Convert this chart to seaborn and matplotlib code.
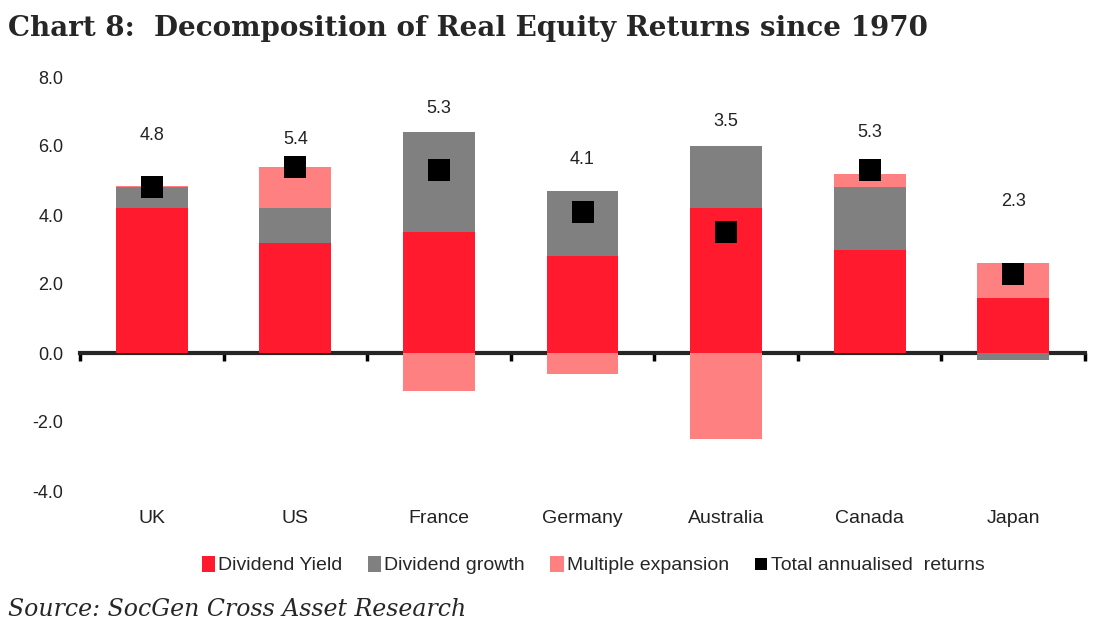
import numpy as np
import pandas as pd
import matplotlib
matplotlib.use("Agg")
import matplotlib.pyplot as plt
import seaborn as sns

# values (% p.a.)
countries = ["UK", "US", "France", "Germany", "Australia", "Canada", "Japan"]
dividend_yield = [4.2, 3.2, 3.5, 2.8, 4.2, 3.0, 1.6]
dividend_growth = [0.6, 1.0, 2.9, 1.9, 1.8, 1.8, -0.2]
multiple_expansion = [0.05, 1.2, -1.1, -0.6, -2.5, 0.4, 1.0]
total_returns = [4.8, 5.4, 5.3, 4.1, 3.5, 5.3, 2.3]
# height where each total label sits
label_heights = [6.3, 6.2, 7.1, 5.6, 6.7, 6.4, 4.4]

components = [
    ("Dividend Yield", dividend_yield, "#FF1A2E"),
    ("Dividend growth", dividend_growth, "#808080"),
    ("Multiple expansion", multiple_expansion, "#FF8080"),
]

sns.set_style("white")
plt.rcParams["font.family"] = ["Liberation Sans", "DejaVu Sans"]

fig = plt.figure(figsize=(10.96, 6.44), dpi=100)
ax = fig.add_axes([80 / 1096, 153 / 644, 1005 / 1096, 414 / 644])

# stack positives upwards and negatives downwards
pos_base = np.zeros(len(countries))
neg_base = np.zeros(len(countries))
for name, vals, col in components:
    vals = np.asarray(vals, dtype=float)
    bottom = np.where(vals >= 0, pos_base, neg_base)
    df = pd.DataFrame({"country": countries, "value": vals})
    sns.barplot(data=df, x="country", y="value", order=countries, bottom=bottom,
                color=col, saturation=1, width=0.5, errorbar=None,
                linewidth=0, label=name, ax=ax)
    pos_base += np.clip(vals, 0, None)
    neg_base += np.clip(vals, None, 0)

tot = pd.DataFrame({"country": countries, "total": total_returns})
sns.scatterplot(data=tot, x="country", y="total", marker="s", s=250,
                color="black", edgecolor="black", linewidth=0,
                label="Total annualised  returns", zorder=5, ax=ax)

for i, (t, h) in enumerate(zip(total_returns, label_heights)):
    ax.text(i, h, f"{t:.1f}", ha="center", va="center", fontsize=13, color="#222222")

ax.set_xlim(-0.5, len(countries) - 0.5)
ax.set_ylim(-4, 8)
ax.set_yticks(np.arange(-4, 9, 2))
ax.set_yticklabels([f"{v:.1f}" for v in np.arange(-4, 9, 2)])
ax.set_xlabel("")
ax.set_ylabel("")
for s in ax.spines.values():
    s.set_visible(False)
ax.tick_params(axis="y", length=0, pad=12, labelsize=13, labelcolor="#222222")
ax.tick_params(axis="x", length=0, pad=14, labelsize=14, labelcolor="#222222")
if ax.get_legend() is not None:
    ax.get_legend().remove()

# zero line with category-boundary ticks
zero_axis = ax.secondary_xaxis(4 / 12)
zero_axis.spines["bottom"].set_linewidth(3)
zero_axis.set_xticks(np.arange(-0.5, len(countries), 1.0))
zero_axis.set_xticklabels([])
zero_axis.tick_params(axis="x", direction="out", length=6, width=2.5, color="black")

handles, labels = ax.get_legend_handles_labels()
order = [labels.index(c[0]) for c in components] + [labels.index("Total annualised  returns")]
fig.legend([handles[k] for k in order], [labels[k] for k in order],
           loc="center", bbox_to_anchor=(593 / 1096, 1 - 565 / 644),
           ncol=4, frameon=False, fontsize=14, handlelength=0.7, handleheight=0.9,
           handletextpad=0.15, columnspacing=1.3, markerscale=0.55)

fig.text(8 / 1096, 1 - 28 / 644, "Chart 8:  Decomposition of Real Equity Returns since 1970",
         fontsize=20, fontweight="bold", family="DejaVu Serif", va="center", ha="left")
fig.text(8 / 1096, 1 - 610 / 644, "Source: SocGen Cross Asset Research",
         fontsize=17, style="italic", family="DejaVu Serif", va="center", ha="left")

fig.savefig("out.png", dpi=100)
